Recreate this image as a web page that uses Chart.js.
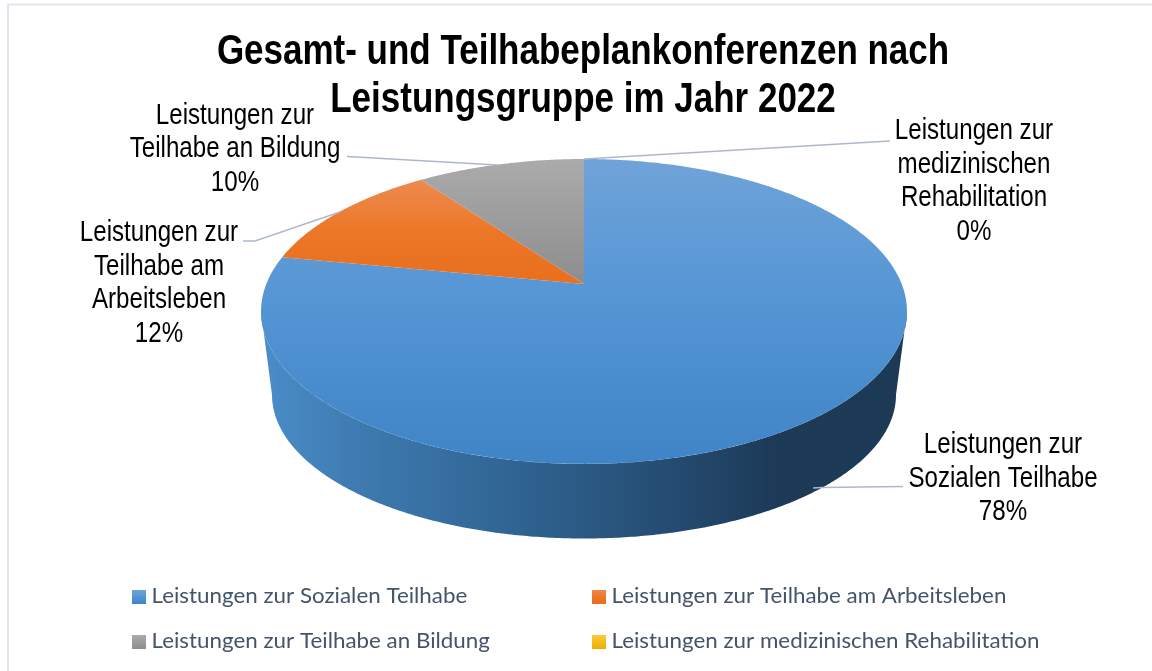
<!DOCTYPE html>
<html lang="de"><head><meta charset="utf-8">
<style>html,body{margin:0;padding:0;background:#fff}canvas{display:block}</style>
<script src="https://cdn.jsdelivr.net/npm/chart.js@4/dist/chart.umd.min.js"></script>
</head><body><canvas id="c" width="1152" height="671"></canvas>
<script>
const categories = ["Leistungen zur Sozialen Teilhabe","Leistungen zur Teilhabe am Arbeitsleben","Leistungen zur Teilhabe an Bildung","Leistungen zur medizinischen Rehabilitation"];
const values = [78,12,10,0];
const colors = ["#5596d6","#e9721f","#9b9b9b","#ffc000"];
const titleLines = ["Gesamt- und Teilhabeplankonferenzen nach","Leistungsgruppe im Jahr 2022"];
const labelLines = [["Leistungen zur","Sozialen Teilhabe"],["Leistungen zur","Teilhabe am","Arbeitsleben"],["Leistungen zur","Teilhabe an Bildung"],["Leistungen zur","medizinischen","Rehabilitation"]];

const P = {cx:584, cy:284, B:317.7, A:147.5, k:-0.18, bx:0.966, bCy:369, bA:139};
const top3 = (a)=>{const u=Math.cos(a),v=Math.sin(a),d=1+P.k*v;return [P.cx+P.B*u/d,P.cy+P.A*v/d];};
const bot3 = (a)=>{const u=Math.cos(a),v=Math.sin(a),d=1+P.k*v;return [P.cx+P.bx*P.B*u/d,P.bCy+P.bA*v/d];};
const STEP = Math.PI/360;
function samples(a0,a1){const r=[];const n=Math.max(1,Math.ceil((a1-a0)/STEP));for(let i=0;i<=n;i++)r.push(a0+(a1-a0)*i/n);return r;}
function vGrad(ctx,stops,y0,y1){const g=ctx.createLinearGradient(0,y0,0,y1);stops.forEach(s=>g.addColorStop(s[0],s[1]));return g;}
const faceStops=[
 [[0,"#70a3d8"],[0.45,"#5596d5"],[1,"#3f84c6"]],
 [[0,"#ee8a50"],[0.5,"#ec7727"],[1,"#e86f1e"]],
 [[0,"#ababab"],[1,"#8d8d8d"]],
 [[0,"#ffc93a"],[1,"#e8b000"]]];
const wallStops=[[0,"#4a8dc8"],[0.13,"#3f7cb3"],[0.4,"#2f6391"],[0.65,"#244a6f"],[0.8,"#1d3a57"],[1,"#1c3a56"]];
const leaders=[[[813,488],[822,487.5],[903,486.5]],[[340,212],[255,241],[243,241]],[[497,165],[356,157],[347,156.5]],[[584,159],[873,142],[890,141]]];
const labelPos=[{x:1003,y:453,h:33.5},{x:159,y:241,h:33.5},{x:235,y:123.5,h:33.5},{x:974,y:139,h:33.5}];
const legendPos=[[132,590],[592,590],[132,635],[592,635]];
const TITLE_CX=583, TITLE_SX=0.833, LABEL_SX=0.832, LEGEND_SX=1.017;

const pie3d={id:'pie3d',
 afterLayout(chart){
  const tb=chart.titleBlock;
  if(tb && !tb._condensed){
   const d=tb.draw;
   tb.draw=function(){const c=chart.ctx;c.save();c.translate(TITLE_CX,0);c.scale(TITLE_SX,1);c.translate(-TITLE_CX,0);d.call(this);c.restore();};
   tb._condensed=true;
  }
 },
 beforeDatasetsDraw(chart){
  const ctx=chart.ctx,arcs=chart.getDatasetMeta(0).data;
  const fStart=Math.asin(-P.k), fEnd=Math.PI-fStart; // visible front of the wall
  ctx.save();
  const w=ctx.createLinearGradient(265,0,905,0);wallStops.forEach(s=>w.addColorStop(s[0],s[1]));
  arcs.forEach((arc,i)=>{
    const p=arc.getProps(['startAngle','endAngle']);
    for(const sh of [0,2*Math.PI,-2*Math.PI]){
      const a0=Math.max(p.startAngle+sh,fStart),a1=Math.min(p.endAngle+sh,fEnd);
      if(a1<=a0)continue;
      const s=samples(a0,a1);
      ctx.beginPath();
      s.forEach((a,j)=>{const q=top3(a);j?ctx.lineTo(q[0],q[1]):ctx.moveTo(q[0],q[1]);});
      s.slice().reverse().forEach(a=>{const q=bot3(a);ctx.lineTo(q[0],q[1]);});
      ctx.closePath();ctx.fillStyle=w;ctx.fill();
    }
  });
  arcs.forEach((arc,i)=>{
    const p=arc.getProps(['startAngle','endAngle']);
    if(p.endAngle-p.startAngle<=0)return;
    ctx.beginPath();ctx.moveTo(P.cx,P.cy);
    const pts=samples(p.startAngle,p.endAngle);
    pts.forEach(a=>{const q=top3(a);ctx.lineTo(q[0],q[1]);});
    ctx.closePath();
    let ymin=1e9,ymax=-1e9;pts.forEach(a=>{const y=top3(a)[1];ymin=Math.min(ymin,y);ymax=Math.max(ymax,y);});ymax=Math.max(ymax,P.cy);
    ctx.fillStyle=vGrad(ctx,faceStops[i],ymin,ymax);ctx.fill();
  });
  ctx.restore();
  return false;
 },
 afterDraw(chart){
  const ctx=chart.ctx;
  const total=values.reduce((a,b)=>a+b,0);
  ctx.save();
  ctx.strokeStyle="#dfe6ee";ctx.lineWidth=2;ctx.strokeRect(8,4.5,1160,680);
  ctx.strokeStyle="#adb9ca";ctx.lineWidth=1.5;
  leaders.forEach(l=>{ctx.beginPath();l.forEach((q,j)=>j?ctx.lineTo(q[0],q[1]):ctx.moveTo(q[0],q[1]));ctx.stroke();});
  ctx.fillStyle="#000";ctx.textAlign="center";ctx.textBaseline="alphabetic";
  ctx.font='29px "Liberation Sans",sans-serif';
  labelLines.forEach((lines,i)=>{
    const all=lines.concat([Math.round(values[i]/total*100)+"%"]),p=labelPos[i];
    all.forEach((t,j)=>{ctx.save();ctx.translate(p.x,p.y+j*p.h);ctx.scale(LABEL_SX,1);ctx.fillText(t,0,0);ctx.restore();});
  });
  ctx.textAlign="left";
  categories.forEach((c,i)=>{
    const [x,y]=legendPos[i];
    ctx.fillStyle=vGrad(ctx,faceStops[i],y,y+14);ctx.fillRect(x,y,14,14);
    ctx.fillStyle="#44546a";ctx.font='22px Lato,"Open Sans",sans-serif';
    ctx.save();ctx.translate(x+19.5,y+13);ctx.scale(LEGEND_SX,1);ctx.fillText(c,0,0);ctx.restore();
  });
  ctx.restore();
 }
};
new Chart(document.getElementById('c'),{
 type:'pie',
 data:{labels:categories,datasets:[{data:values,backgroundColor:colors,borderWidth:0}]},
 plugins:[pie3d],
 options:{responsive:false,animation:false,
  layout:{padding:{left:14}},
  plugins:{
   legend:{display:false},tooltip:{enabled:false},
   title:{display:true,text:titleLines,color:"#000",padding:{top:28,bottom:0},
    font:{family:'"Liberation Sans",sans-serif',size:42,weight:'bold',lineHeight:1.145}}
  }}
});
</script></body></html>
